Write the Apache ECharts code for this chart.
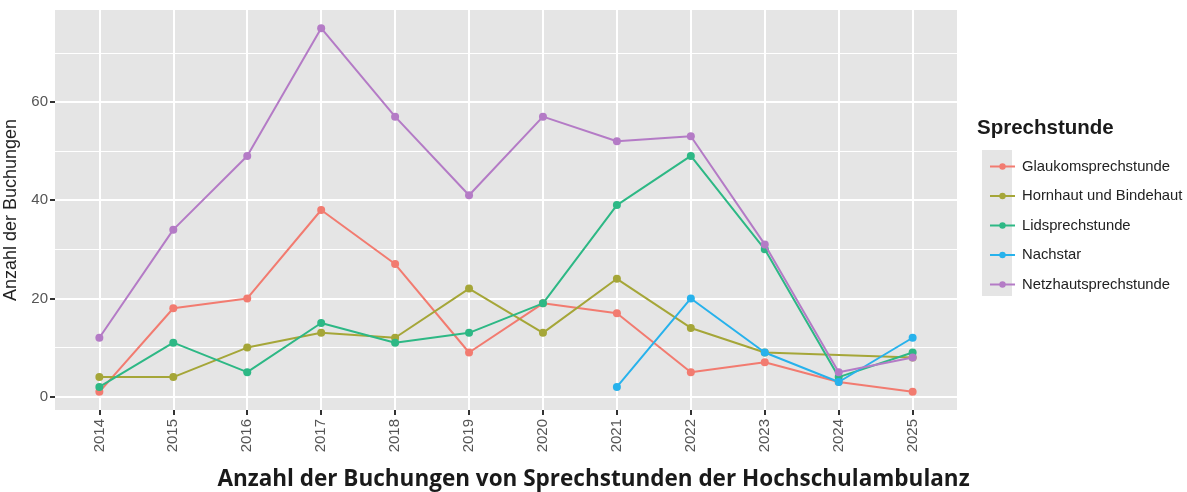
<!DOCTYPE html>
<html>
<head>
<meta charset="utf-8">
<script src="https://cdn.jsdelivr.net/npm/echarts@6/dist/echarts.min.js"></script>
<style>
  html, body { margin: 0; padding: 0; background: #fff; }
  #chart { width: 1187px; height: 492px; }
</style>
</head>
<body>
<div id="chart"></div>
<script>
// Booking counts per consultation type, 2014–2025
const years = [2014, 2015, 2016, 2017, 2018, 2019, 2020, 2021, 2022, 2023, 2024, 2025];
const glaukom   = [1, 18, 20, 38, 27, 9, 19, 17, 5, 7, 3, 1];
const hornhaut  = [4, 4, 10, 13, 12, 22, 13, 24, 14, 9, null, 8];
const lids      = [2, 11, 5, 15, 11, 13, 19, 39, 49, 30, 4, 9];
const nachstar  = [null, null, null, null, null, null, null, 2, 20, 9, 3, 12];
const netzhaut  = [12, 34, 49, 75, 57, 41, 57, 52, 53, 31, 5, 8];

const seriesNames = ['Glaukomsprechstunde', 'Hornhaut und Bindehaut', 'Lidsprechstunde', 'Nachstar', 'Netzhautsprechstunde'];
const seriesValues = [glaukom, hornhaut, lids, nachstar, netzhaut];
const seriesColors = ['#F27B70', '#A5A638', '#2DB885', '#27B2EC', '#B47BC6'];

const yMajorTicks = [0, 20, 40, 60];
const yMinorTicks = [10, 30, 50, 70];

const chartTitle = 'Anzahl der Buchungen von Sprechstunden der Hochschulambulanz';
const yTitle = 'Anzahl der Buchungen';
const legendTitle = 'Sprechstunde';

const FONT = 'Liberation Sans, Arial, sans-serif';

function pairs(vals) {
  const out = [];
  vals.forEach((v, i) => { if (v !== null) out.push([years[i], v]); });
  return out;
}

const chart = echarts.init(document.getElementById('chart'), null, { renderer: 'canvas' });

const option = {
  backgroundColor: '#ffffff',
  animation: false,
  textStyle: { fontFamily: FONT },
  title: [
    {
      text: chartTitle,
      left: 'center',
      top: 463,
      textStyle: { fontFamily: 'Open Sans, sans-serif', fontWeight: 'bold', fontSize: 22.5, color: '#1a1a1a' }
    },
    {
      text: legendTitle,
      left: 972,
      top: 113,
      textStyle: { fontFamily: FONT, fontWeight: 'bold', fontSize: 20.5, color: '#1a1a1a' }
    }
  ],
  graphic: [
    { type: 'rect', left: 982, top: 150, shape: { width: 30, height: 146 }, style: { fill: '#E5E5E5' }, z: 0 }
  ],
  legend: {
    orient: 'vertical',
    left: 984,
    top: 153,
    itemWidth: 25,
    itemHeight: 8,
    itemGap: 12.5,
    data: seriesNames,
    textStyle: { fontFamily: FONT, fontSize: 14.8, color: '#222', padding: [0, 0, 0, 2], lineHeight: 17 }
  },
  grid: {
    left: 55, right: 230, top: 10, bottom: 82,
    outerBoundsMode: 'none',
    containLabel: false,
    show: true, backgroundColor: '#E5E5E5', borderWidth: 0
  },
  xAxis: {
    type: 'value',
    min: 2013.4,
    max: 2025.6,
    axisLine: { show: false, onZero: false },
    axisTick: { show: true, customValues: years, length: 5, lineStyle: { color: '#333', width: 2 } },
    axisLabel: {
      customValues: years, rotate: 90, margin: 9,
      formatter: v => String(v),
      fontFamily: FONT, fontSize: 15, color: '#555'
    },
    splitLine: { show: true, lineStyle: { color: '#ffffff', width: 2 } }
  },
  yAxis: [
    {
      type: 'value',
      min: -2.7,
      max: 78.7,
      name: yTitle,
      nameLocation: 'middle',
      nameGap: 30,
      nameTextStyle: { fontFamily: FONT, fontSize: 18, color: '#222' },
      axisLine: { show: false, onZero: false },
      axisTick: { show: true, customValues: yMajorTicks, length: 5, lineStyle: { color: '#333', width: 2 } },
      axisLabel: { customValues: yMajorTicks, margin: 7, fontFamily: FONT, fontSize: 15, color: '#555' },
      splitLine: { show: true, lineStyle: { color: '#ffffff', width: 2 } }
    },
    {
      type: 'value',
      min: -2.7,
      max: 78.7,
      position: 'left',
      axisLine: { show: false, onZero: false },
      axisTick: { show: false, customValues: yMinorTicks },
      axisLabel: { show: false, customValues: yMinorTicks },
      splitLine: { show: true, lineStyle: { color: '#ffffff', width: 1 } }
    }
  ],
  series: seriesNames.map((name, i) => ({
    name: name,
    type: 'line',
    yAxisIndex: 0,
    data: pairs(seriesValues[i]),
    color: seriesColors[i],
    symbol: 'circle',
    symbolSize: 8,
    showSymbol: true,
    lineStyle: { width: 2, color: seriesColors[i] },
    itemStyle: { color: seriesColors[i] },
    z: 2 + i
  }))
};

chart.setOption(option);
</script>
</body>
</html>
